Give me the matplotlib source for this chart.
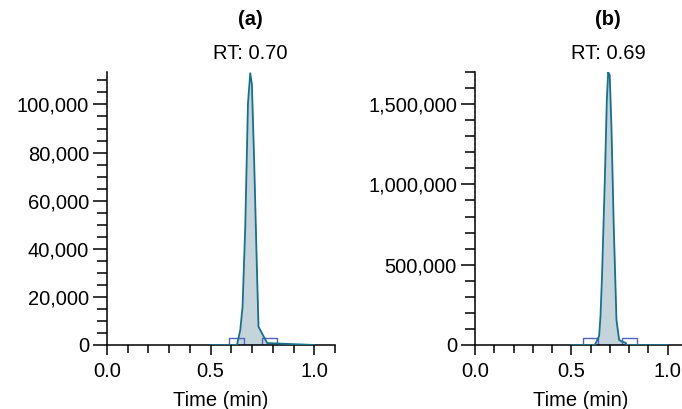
import numpy as np
import matplotlib
matplotlib.use("Agg")
import matplotlib.pyplot as plt
from matplotlib.ticker import MultipleLocator, FuncFormatter

plt.rcParams['font.family'] = ['Liberation Sans', 'DejaVu Sans']

# panel (a) trace, time in min / intensity
time_a = [0.50, 0.627, 0.643, 0.654, 0.667, 0.680, 0.691, 0.699, 0.710, 0.723,
          0.731, 0.747, 0.773, 1.00]
int_a = [0, 0, 6200, 15900, 49000, 100200, 113000, 108500, 76600, 32400,
         7600, 5000, 800, 0]
# integration markers (start, end, height) for (a)
marks_a = [(0.591, 0.659, 3000), (0.750, 0.820, 3000)]

# panel (b) trace
time_b = [0.50, 0.622, 0.644, 0.651, 0.659, 0.674, 0.684, 0.691, 0.699, 0.708,
          0.720, 0.734, 0.748, 0.765, 0.782, 0.786, 1.00]
int_b = [0, 0, 56000, 176000, 425000, 1047000, 1525000, 1700000, 1680000, 1358000,
         736000, 156000, 31000, 20000, 14000, 0, 0]
marks_b = [(0.561, 0.639, 45000), (0.765, 0.840, 45000)]

panels = ["(a)", "(b)"]
rt_labels = ["RT: 0.70", "RT: 0.69"]
rt_pos = [0.692, 0.69]

line_col = "#17708c"
fill_col = "#c5d4db"
mark_col = "#5064c4"
fs = 14.5

fig = plt.figure(figsize=(6.82, 4.09), dpi=100)
W, H = 682, 409
ax_a = fig.add_axes([107 / W, (H - 345) / H, 228 / W, 273 / H])
ax_b = fig.add_axes([475 / W, (H - 345) / H, 212 / W, 273 / H])

comma = FuncFormatter(lambda v, p: f"{int(round(v)):,}")

setup = [
    (ax_a, time_a, int_a, marks_a, 113500, 20000, 5000),
    (ax_b, time_b, int_b, marks_b, 1700000, 500000, 100000),
]

for i, (ax, t, y, marks, ytop, ymaj, ymin) in enumerate(setup):
    ax.fill_between(t, y, 0, color=fill_col, lw=0)
    ax.plot(t, y, color=line_col, lw=1.3, zorder=3)
    # integration baseline and start/end boxes
    ax.plot([marks[0][0], marks[1][1]], [0, 0], color=mark_col, lw=1.0, zorder=2)
    for x0, x1, h in marks:
        ax.plot([x0, x0, x1, x1], [0, h, h, 0], color=mark_col, lw=1.0, zorder=2)

    ax.set_xlim(0, 1.1)
    ax.set_ylim(0, ytop)
    ax.spines['top'].set_visible(False)
    ax.spines['right'].set_visible(False)
    for s in ['left', 'bottom']:
        ax.spines[s].set_linewidth(1.1)

    ax.xaxis.set_major_locator(MultipleLocator(0.5))
    ax.xaxis.set_minor_locator(MultipleLocator(0.1))
    ax.xaxis.set_major_formatter(FuncFormatter(lambda v, p: f"{v:.1f}"))
    ax.yaxis.set_major_locator(MultipleLocator(ymaj))
    ax.yaxis.set_minor_locator(MultipleLocator(ymin))
    ax.yaxis.set_major_formatter(comma)

    ax.tick_params(axis='x', which='major', direction='out', length=7.5, width=1.1,
                   labelsize=fs, pad=5)
    ax.tick_params(axis='x', which='minor', direction='out', length=5.5, width=1.1)
    ax.tick_params(axis='y', which='major', direction='out', length=10, width=1.1,
                   labelsize=fs, pad=3)
    ax.tick_params(axis='y', which='minor', direction='out', length=7, width=1.1)

    ax.set_xlabel("Time (min)", fontsize=fs, labelpad=7)

    ax.annotate(rt_labels[i], xy=(rt_pos[i], 1), xycoords=('data', 'axes fraction'),
                xytext=(0, 13), textcoords='offset points', ha='center', va='center',
                fontsize=fs)
    ax.annotate(panels[i], xy=(rt_pos[i], 1), xycoords=('data', 'axes fraction'),
                xytext=(0, 38), textcoords='offset points', ha='center', va='center',
                fontsize=fs, fontweight='bold')

fig.savefig("out.png", dpi=100)
